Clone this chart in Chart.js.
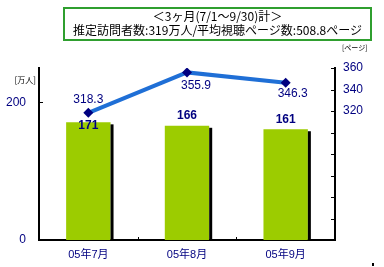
<!DOCTYPE html>
<html>
<head>
<meta charset="utf-8">
<script src="https://cdn.jsdelivr.net/npm/chart.js@4/dist/chart.umd.min.js"></script>
<style>
body { margin: 0; background: #fff; }
#wrap { position: relative; width: 384px; height: 267px; }
#box {
    position: absolute; left: 63px; top: 7px; width: 305px; height: 30px;
    border: 2px solid #2f9f2f; text-align: center; color: #000;
    font: 12px "Noto Sans CJK JP", sans-serif; line-height: 14px; box-sizing: content-box;
}
#dot { position: absolute; left: 372px; top: 263px; width: 2px; height: 3px; background: #000; }
</style>
</head>
<body>
<div id="wrap">
    <canvas id="chart" width="384" height="267"></canvas>
    <div id="box"><div id="t1"></div><div id="t2"></div></div>
    <div id="dot"></div>
</div>
<script>
// data
var titleLines = ['＜3ヶ月(7/1～9/30)計＞', '推定訪問者数:319万人/平均視聴ページ数:508.8ページ'];
var categories = ['05年7月', '05年8月', '05年9月'];
var visitors = [171, 166, 161];          // 万人 (left axis, bars)
var pageViews = [318.3, 355.9, 346.3];   // ページ (right axis, line)
var leftTicks = [0, 200];
var rightTicks = [200, 220, 240, 260, 280, 300, 320, 340, 360];
var rightTickLabels = [320, 340, 360];
var leftUnit = '[万人]';
var rightUnit = '[ページ]';

document.getElementById('t1').textContent = titleLines[0];
document.getElementById('t2').textContent = titleLines[1];

var navy = '#000080';
var font = '"Liberation Sans", "Noto Sans CJK JP", sans-serif';

// label offsets (style only)
var barLabelDy = [3, -10, -10];
var lineLabelDx = [0, 9, 7];
var lineLabelDy = [-13, 13, 11];

var decor = {
    id: 'decor',
    afterDatasetDraw: function (chart, args) {
        if (args.index !== 0) return;
        var ctx = chart.ctx;
        ctx.save();
        ctx.fillStyle = '#000';
        chart.getDatasetMeta(0).data.forEach(function (bar) {
            var right = bar.x + bar.width / 2;
            ctx.fillRect(right, bar.y + 2, 3, bar.base - bar.y - 2);
        });
        ctx.restore();
    },
    afterDatasetsDraw: function (chart) {
        var ctx = chart.ctx, a = chart.chartArea;
        var y = chart.scales.y, y1 = chart.scales.y1, x = chart.scales.x;
        ctx.save();
        // inward tick marks
        ctx.strokeStyle = '#000';
        ctx.lineWidth = 1;
        ctx.beginPath();
        var py = Math.round(y.getPixelForValue(200)) + 0.5;
        ctx.moveTo(a.left, py); ctx.lineTo(a.left + 4, py);
        rightTicks.forEach(function (v) {
            var p = Math.round(y1.getPixelForValue(v)) + 0.5;
            ctx.moveTo(a.right - 4, p); ctx.lineTo(a.right, p);
        });
        for (var i = 1; i < categories.length; i++) {
            var px = Math.round((x.getPixelForValue(i - 1) + x.getPixelForValue(i)) / 2) + 0.5;
            ctx.moveTo(px, a.bottom - 3); ctx.lineTo(px, a.bottom);
        }
        ctx.stroke();

        // bar value labels
        ctx.fillStyle = navy;
        ctx.textAlign = 'center';
        ctx.textBaseline = 'middle';
        ctx.font = 'bold 12px ' + font;
        chart.getDatasetMeta(0).data.forEach(function (bar, i) {
            ctx.fillText(String(visitors[i]), bar.x, bar.y + barLabelDy[i]);
        });
        // line value labels
        ctx.font = '12px ' + font;
        chart.getDatasetMeta(1).data.forEach(function (pt, i) {
            ctx.fillText(pageViews[i].toFixed(1), pt.x + lineLabelDx[i], pt.y + lineLabelDy[i]);
        });
        // unit labels
        ctx.fillStyle = '#000';
        ctx.font = '8px "Noto Sans CJK JP", sans-serif';
        ctx.textAlign = 'right';
        ctx.fillText(leftUnit, a.left - 3, 80);
        ctx.font = '7px "Noto Sans CJK JP", sans-serif';
        ctx.textAlign = 'left';
        ctx.fillText(rightUnit, a.right + 7, 47);
        ctx.restore();
    }
};

var chart = new Chart(document.getElementById('chart'), {
    type: 'bar',
    data: {
        labels: categories,
        datasets: [
            {
                type: 'bar',
                data: visitors,
                yAxisID: 'y',
                backgroundColor: '#9ccc00',
                barPercentage: 0.45,
                categoryPercentage: 1,
                order: 1
            },
            {
                type: 'line',
                data: pageViews,
                yAxisID: 'y1',
                borderColor: '#1f6fd6',
                borderWidth: 4,
                tension: 0,
                pointStyle: 'rectRot',
                pointRadius: 5,
                pointBorderWidth: 0,
                pointBackgroundColor: navy,
                order: 0
            }
        ]
    },
    options: {
        responsive: false,
        animation: false,
        layout: { padding: { top: 68, left: 0, right: 0, bottom: 0 } },
        plugins: { legend: { display: false }, tooltip: { enabled: false } },
        scales: {
            x: {
                grid: { display: false, drawTicks: false },
                border: { display: true, color: '#000', width: 2 },
                ticks: { color: navy, font: { family: font, size: 11 }, padding: 8 },
                afterFit: function (s) { s.height = 27; }
            },
            y: {
                position: 'left',
                min: 0, max: 250,
                grid: { display: false, drawTicks: false },
                border: { display: true, color: '#000', width: 2 },
                afterBuildTicks: function (s) { s.ticks = leftTicks.map(function (v) { return { value: v }; }); },
                ticks: { color: navy, font: { family: font, size: 12 }, padding: 13 },
                afterFit: function (s) { s.width = 39; }
            },
            y1: {
                position: 'right',
                min: 200, max: 360,
                grid: { display: false, drawTicks: false },
                border: { display: true, color: '#000', width: 2 },
                afterBuildTicks: function (s) { s.ticks = rightTickLabels.map(function (v) { return { value: v }; }); },
                ticks: { color: navy, font: { family: font, size: 12 }, padding: 8 },
                afterFit: function (s) { s.width = 49; }
            }
        }
    },
    plugins: [decor]
});
</script>
</body>
</html>
